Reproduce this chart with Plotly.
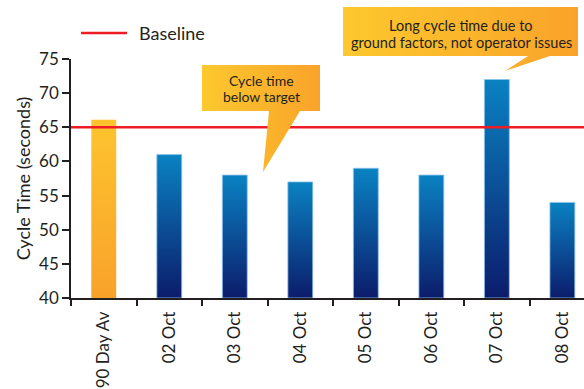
import plotly.graph_objects as go

# ---- data ----
categories = ["90 Day Av", "02 Oct", "03 Oct", "04 Oct", "05 Oct", "06 Oct", "07 Oct", "08 Oct"]
cycle_times = [66.1, 61, 58, 57, 59, 58, 72, 54]
bar_kind = ["average", "day", "day", "day", "day", "day", "day", "day"]
baseline_value = 65
baseline_name = "Baseline"
y_ticks = [40, 45, 50, 55, 60, 65, 70, 75]
callout1_lines = ["Cycle time", "below target"]
callout2_lines = ["Long cycle time due to", "ground factors, not operator issues"]

# ---- styling / layout constants ----
W, H = 584, 389
PLOT_L, PLOT_R, PLOT_T, PLOT_B = 71, 584, 59, 298
Y_MIN, Y_MAX = 40, 75
X_MIN, X_MAX = -0.5, 7.33
HALF_W = 0.19
FONT = "Lato"
TXT = "#231f20"
grad = {
    "average": [[0, "#f9a22b"], [1, "#fdc42e"]],
    "day": [[0, "#0c1c6b"], [1, "#0a82c2"]],
}
edge = {"average": "rgba(0,0,0,0)", "day": "rgba(140,195,235,0.8)"}

fig = go.Figure()

# bars as gradient-filled polygons built from the data
for i, (cat, v, kind) in enumerate(zip(categories, cycle_times, bar_kind)):
    fig.add_trace(go.Scatter(
        x=[i - HALF_W, i + HALF_W, i + HALF_W, i - HALF_W, i - HALF_W],
        y=[Y_MIN, Y_MIN, v, v, Y_MIN],
        mode="lines", fill="toself",
        fillgradient=dict(type="vertical", colorscale=grad[kind]),
        line=dict(width=1, color=edge[kind]),
        name=cat, showlegend=False, hoverinfo="skip",
        xaxis="x", yaxis="y",
    ))

# baseline
fig.add_trace(go.Scatter(
    x=[X_MIN, X_MAX], y=[baseline_value, baseline_value],
    mode="lines", line=dict(color="#ed1c24", width=2.5),
    name=baseline_name, showlegend=False, hoverinfo="skip",
    xaxis="x", yaxis="y",
))

# callouts on a full-figure pixel overlay
orange = [[0, "#fdc82e"], [1, "#f9a32a"]]
def callout(pts):
    xs = [p[0] for p in pts] + [pts[0][0]]
    ys = [p[1] for p in pts] + [pts[0][1]]
    fig.add_trace(go.Scatter(
        x=xs, y=ys, mode="lines", fill="toself",
        fillgradient=dict(type="horizontal", colorscale=orange),
        line=dict(width=0, color="rgba(0,0,0,0)"),
        showlegend=False, hoverinfo="skip", xaxis="x2", yaxis="y2",
    ))

callout([(202, 65), (320, 65), (320, 111), (300, 111), (263, 172), (269, 111), (202, 111)])
callout([(343, 7), (578, 7), (578, 56), (550, 56), (505, 71), (528, 56), (343, 56)])

def label(text, px, py, size, xanchor="center"):
    return dict(text=text, x=px / W, y=1 - py / H, xref="paper", yref="paper",
                xanchor=xanchor, yanchor="middle", showarrow=False,
                font=dict(family=FONT, size=size, color=TXT))

annotations = [
    label(callout1_lines[0], 261, 81, 14),
    label(callout1_lines[1], 261, 96, 14),
    label(callout2_lines[0], 461, 26, 14.5),
    label(callout2_lines[1], 461, 43, 14.5),
    label(baseline_name, 137, 33, 18, xanchor="left"),
]
shapes = [dict(type="line", xref="paper", yref="paper", x0=81 / W, x1=127 / W,
               y0=1 - 33 / H, y1=1 - 33 / H, line=dict(color="#ed1c24", width=2.5))]

fig.update_layout(
    width=W, height=H,
    margin=dict(l=0, r=0, t=0, b=0, autoexpand=False),
    paper_bgcolor="white", plot_bgcolor="rgba(0,0,0,0)",
    font=dict(family=FONT, color=TXT),
    showlegend=False,
    annotations=annotations, shapes=shapes,
    xaxis=dict(
        domain=[PLOT_L / W, PLOT_R / W], range=[X_MIN, X_MAX],
        tickmode="array", tickvals=list(range(len(categories))), ticktext=categories,
        tickangle=-90, ticks="outside", ticklen=5, tickcolor="rgba(0,0,0,0)",
        tickfont=dict(family=FONT, size=17, color=TXT),
        showline=True, linecolor=TXT, linewidth=1.5, showgrid=False, zeroline=False,
        minor=dict(tick0=0.5, dtick=1, ticks="outside", ticklen=6, tickcolor=TXT, tickwidth=1.5),
        anchor="y", fixedrange=True, automargin=False,
    ),
    yaxis=dict(
        domain=[1 - PLOT_B / H, 1 - PLOT_T / H], range=[Y_MIN, Y_MAX],
        tickmode="array", tickvals=y_ticks,
        ticks="outside", ticklen=7, tickwidth=1.5, tickcolor=TXT,
        tickfont=dict(family=FONT, size=17, color=TXT),
        showline=True, linecolor=TXT, linewidth=1.5, showgrid=False, zeroline=False,
        title=dict(text="Cycle Time (seconds)", font=dict(family=FONT, size=18, color=TXT), standoff=4),
        anchor="x", fixedrange=True, automargin=False,
    ),
    xaxis2=dict(domain=[0, 1], range=[0, W], visible=False, anchor="y2", fixedrange=True, automargin=False),
    yaxis2=dict(domain=[0, 1], range=[H, 0], visible=False, anchor="x2", fixedrange=True, automargin=False),
)

fig.write_html("out.html", config={"displayModeBar": False},
               post_script="document.body.style.margin='0';")
